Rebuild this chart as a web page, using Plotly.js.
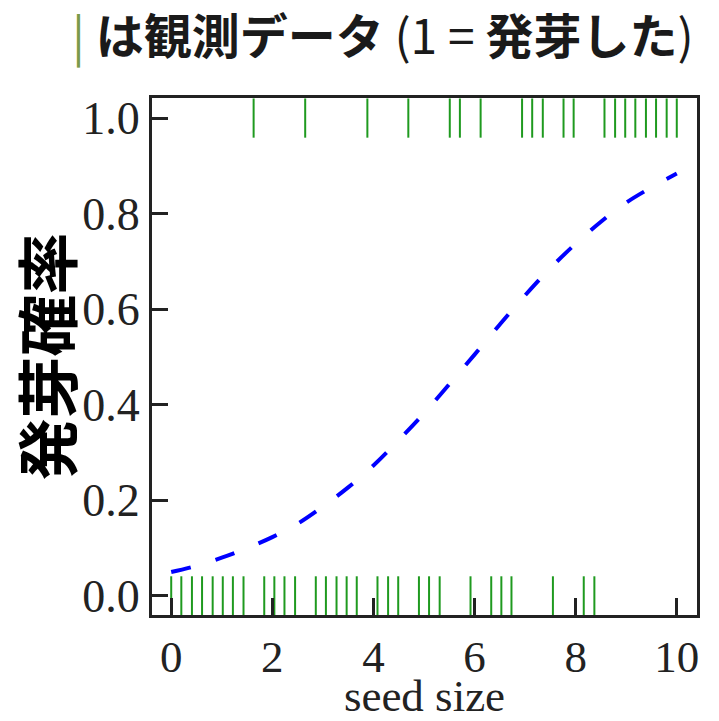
<!DOCTYPE html>
<html>
<head>
<meta charset="utf-8">
<script src="https://cdn.plot.ly/plotly-3.0.1.min.js"></script>
<style>html,body{margin:0;padding:0;background:#fff;}#chart{width:719px;height:721px;}</style>
</head>
<body>
<div id="chart"></div>
<script>
// Observed data: seed sizes that did not germinate (0) and did germinate (1)
const seedSize0 = [0.00, 0.20, 0.41, 0.61, 0.82, 1.02, 1.22, 1.43, 1.84, 2.04, 2.24, 2.45, 2.86, 3.06, 3.27, 3.47, 3.67, 4.08, 4.29, 4.49, 4.90, 5.10, 5.31, 5.92, 6.33, 6.53, 6.73, 7.55, 8.16, 8.37];
const germ0 = [0,0,0,0,0,0,0,0,0,0,0,0,0,0,0,0,0,0,0,0,0,0,0,0,0,0,0,0,0,0];
const seedSize1 = [1.63, 2.65, 3.88, 4.69, 5.51, 5.71, 6.12, 6.94, 7.14, 7.35, 7.76, 7.96, 8.57, 8.78, 8.98, 9.18, 9.39, 9.59, 9.80, 10.00];
const germ1 = [1,1,1,1,1,1,1,1,1,1,1,1,1,1,1,1,1,1,1,1];

// Estimated germination probability curve
const curveX = [0, 0.5, 1, 1.5, 2, 2.5, 3, 3.5, 4, 4.5, 5, 5.5, 6, 6.5, 7, 7.5, 8, 8.5, 9, 9.5, 10];
const curveY = [0.050, 0.063, 0.080, 0.100, 0.123, 0.151, 0.187, 0.227, 0.273, 0.326, 0.382, 0.443, 0.505, 0.568, 0.629, 0.686, 0.737, 0.783, 0.823, 0.855, 0.884];

const xTicks = [0, 2, 4, 6, 8, 10];
const yTicks = [0, 0.2, 0.4, 0.6, 0.8, 1.0];
const yTickText = ['0.0', '0.2', '0.4', '0.6', '0.8', '1.0'];

const green = '#1f9a1f';
const frame = '#222222';
const serif = '"Liberation Serif", "Times New Roman", serif';

const traces = [
  {
    x: seedSize0, y: germ0, type: 'scatter', mode: 'markers', hoverinfo: 'x+y',
    marker: {symbol: 'line-ns', size: 28, line: {color: green, width: 2}, color: green}
  },
  {
    x: seedSize1, y: germ1, type: 'scatter', mode: 'markers', hoverinfo: 'x+y',
    marker: {symbol: 'line-ns', size: 28, line: {color: green, width: 2}, color: green}
  },
  {
    x: curveX, y: curveY, type: 'scatter', mode: 'lines', line: {shape: 'spline', color: '#0000ff', width: 4, dash: '20px,26px'}
  }
];

const layout = {
  width: 719, height: 721,
  margin: {l: 152, r: 22, t: 98, b: 106},
  paper_bgcolor: '#ffffff', plot_bgcolor: '#ffffff',
  showlegend: false,
  title: {
    text: '<span style="color:#7a9a4a">|</span> <b>は観測データ</b> (1 = <b>発芽した</b>)',
    font: {family: '"Noto Sans CJK JP", sans-serif', size: 48, color: '#1a1a1a'},
    x: 0.1, xref: 'container', xanchor: 'left',
    y: 0.948, yref: 'container', yanchor: 'middle'
  },
  xaxis: {
    range: [-0.38, 10.40], showgrid: false, zeroline: false,
    showline: true, linecolor: frame, linewidth: 3, mirror: true,
    ticks: 'inside', ticklen: 17, tickwidth: 3, tickcolor: frame,
    tickvals: xTicks, ticktext: xTicks.map(String),
    tickfont: {family: serif, size: 45, color: '#222'},
    title: {text: 'seed size', font: {family: serif, size: 45, color: '#222'}}
  },
  yaxis: {
    range: [-0.040, 1.042], showgrid: false, zeroline: false,
    showline: true, linecolor: frame, linewidth: 3, mirror: true,
    ticks: 'inside', ticklen: 16, tickwidth: 3, tickcolor: frame,
    tickvals: yTicks, ticktext: yTickText,
    tickfont: {family: serif, size: 46, color: '#222'},
    title: {text: '<b>発芽確率</b>', standoff: 2, font: {family: '"Noto Sans CJK JP", sans-serif', size: 62, color: '#000'}}
  }
};

Plotly.newPlot('chart', traces, layout, {displayModeBar: false, staticPlot: true});
</script>
</body>
</html>
